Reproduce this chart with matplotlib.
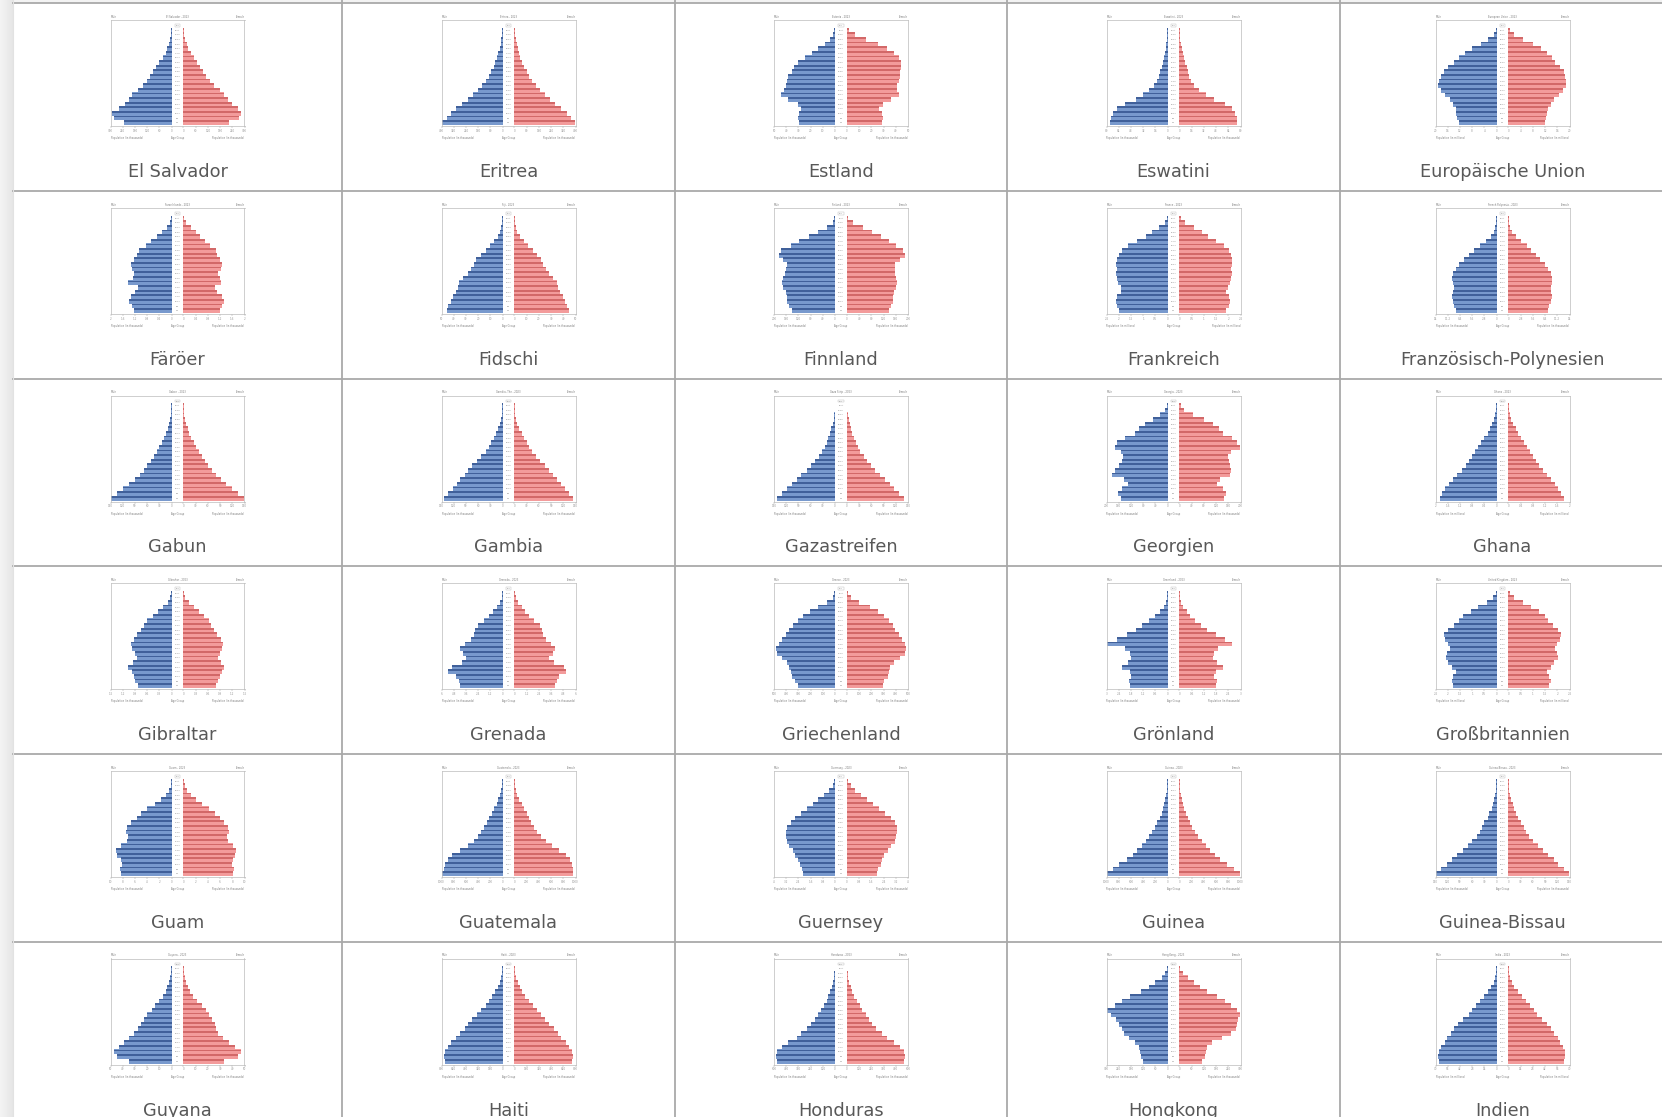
import matplotlib

matplotlib.use("Agg")
import matplotlib.pyplot as plt
from matplotlib.colors import LinearSegmentedColormap
import numpy as np

# --- data: relative bar length (0-100 = full half-width), age 0-4 first ---
countries = [
    "El Salvador", "Eritrea", "Estland", "Eswatini", "Europäische Union",
    "Färöer", "Fidschi", "Finnland", "Frankreich", "Französisch-Polynesien",
    "Gabun", "Gambia", "Gazastreifen", "Georgien", "Ghana",
    "Gibraltar", "Grenada", "Griechenland", "Grönland", "Großbritannien",
    "Guam", "Guatemala", "Guernsey", "Guinea", "Guinea-Bissau",
    "Guyana", "Haiti", "Honduras", "Hongkong", "Indien",
]
chart_titles = [
    "El Salvador", "Eritrea", "Estonia", "Eswatini", "European Union",
    "Faroe Islands", "Fiji", "Finland", "France", "French Polynesia",
    "Gabon", "Gambia, The", "Gaza Strip", "Georgia", "Ghana",
    "Gibraltar", "Grenada", "Greece", "Greenland", "United Kingdom",
    "Guam", "Guatemala", "Guernsey", "Guinea", "Guinea-Bissau",
    "Guyana", "Haiti", "Honduras", "Hong Kong", "India",
]
scale_max = [300, 400, 50, 80, 20, 2, 50, 200, 2.5, 14,
             150, 150, 150, 200, 2,
             1.5, 6, 500, 3, 2.5,
             10, 1000, 4, 1000, 150,
             50, 800, 600, 300, 70]
unit = ["thousands", "thousands", "thousands", "thousands", "millions",
        "thousands", "thousands", "thousands", "millions", "thousands",
        "thousands", "thousands", "thousands", "thousands", "millions",
        "thousands", "thousands", "thousands", "thousands", "millions",
        "thousands", "thousands", "thousands", "thousands", "thousands",
        "thousands", "thousands", "thousands", "thousands", "millions"]
age_groups = ["0-4", "5-9", "10-14", "15-19", "20-24", "25-29", "30-34",
              "35-39", "40-44", "45-49", "50-54", "55-59", "60-64", "65-69",
              "70-74", "75-79", "80-84", "85-89", "90-94", "95-99", "100+"]
year = "2023"

male = {
    "El Salvador": [79, 96, 99, 88, 78, 71, 65, 56, 47, 40, 35, 30, 25, 20, 14, 10, 7, 5, 3, 1.5, 0.5],
    "Eritrea": [100, 93, 86, 77, 67, 58, 49, 41, 34, 28, 23, 19, 15, 12, 9, 7, 5, 3, 2, 1, 0.3],
    "Estland": [60, 62, 60, 56, 62, 78, 90, 85, 82, 80, 78, 72, 68, 62, 50, 38, 28, 16, 8, 3, 1],
    "Eswatini": [96, 94, 90, 84, 70, 52, 40, 30, 22, 17, 14, 12, 10, 8, 6, 4, 3, 2, 1, 0.5, 0.2],
    "Europäische Union": [62, 65, 68, 68, 72, 78, 85, 92, 98, 96, 92, 88, 80, 70, 62, 52, 40, 26, 14, 5, 1],
    "Färöer": [62, 66, 70, 68, 60, 56, 72, 64, 62, 66, 68, 62, 58, 54, 42, 34, 24, 16, 8, 3, 1],
    "Fidschi": [92, 90, 86, 82, 78, 74, 72, 66, 58, 52, 48, 44, 36, 28, 20, 14, 8, 4, 2, 1, 0.3],
    "Finnland": [72, 76, 80, 80, 82, 86, 88, 86, 84, 82, 80, 86, 94, 90, 74, 60, 44, 28, 14, 4, 1],
    "Frankreich": [80, 84, 86, 84, 78, 78, 82, 84, 86, 84, 86, 84, 80, 76, 66, 50, 36, 26, 14, 5, 1],
    "Französisch-Polynesien": [68, 70, 72, 74, 72, 70, 72, 74, 72, 68, 62, 54, 46, 38, 28, 18, 10, 5, 2, 1, 0.3],
    "Gabun": [100, 90, 80, 70, 61, 53, 46, 40, 34, 29, 24, 20, 16, 12, 9, 6, 4, 2, 1, 0.5, 0.2],
    "Gambia": [97, 90, 83, 76, 70, 63, 57, 50, 42, 35, 28, 23, 19, 15, 11, 7, 4, 2, 1, 0.5, 0.2],
    "Gazastreifen": [97, 88, 80, 72, 64, 56, 47, 40, 34, 27, 21, 17, 14, 11, 8, 6, 4, 2, 1, 0.5, 0.2],
    "Georgien": [78, 82, 76, 66, 72, 92, 88, 80, 76, 74, 78, 88, 84, 70, 54, 48, 38, 24, 12, 4, 1],
    "Ghana": [94, 90, 85, 79, 72, 65, 58, 51, 45, 40, 35, 30, 25, 20, 15, 11, 7, 4, 2, 1, 0.3],
    "Gibraltar": [56, 60, 62, 66, 72, 64, 58, 60, 66, 68, 62, 58, 50, 46, 40, 30, 22, 14, 6, 2, 0.5],
    "Grenada": [70, 72, 78, 90, 84, 68, 60, 66, 70, 62, 52, 48, 46, 40, 30, 22, 16, 10, 4, 1, 0.3],
    "Griechenland": [62, 66, 72, 74, 76, 80, 88, 96, 98, 94, 88, 82, 76, 70, 62, 54, 42, 28, 14, 4, 1],
    "Grönland": [62, 64, 60, 62, 76, 66, 60, 62, 70, 100, 84, 68, 52, 42, 30, 20, 12, 6, 2, 1, 0.2],
    "Großbritannien": [72, 74, 72, 68, 74, 80, 84, 82, 78, 80, 86, 88, 80, 70, 62, 56, 42, 30, 16, 6, 1],
    "Guam": [84, 86, 82, 84, 90, 92, 84, 74, 72, 76, 74, 68, 58, 50, 40, 28, 18, 10, 4, 1, 0.3],
    "Guatemala": [100, 98, 95, 90, 84, 70, 58, 48, 40, 35, 30, 26, 22, 18, 15, 10, 7, 5, 3, 1, 0.5],
    "Guernsey": [54, 55, 58, 62, 66, 70, 76, 80, 82, 82, 80, 74, 66, 56, 46, 36, 28, 18, 10, 4, 1],
    "Guinea": [100, 90, 80, 68, 58, 50, 43, 36, 30, 25, 20, 17, 13, 10, 8, 6, 4, 2, 1, 0.5, 0.2],
    "Guinea-Bissau": [100, 92, 82, 74, 65, 56, 48, 40, 33, 28, 24, 20, 15, 12, 8, 6, 4, 2, 1, 0.5, 0.2],
    "Guyana": [70, 90, 96, 88, 79, 70, 62, 56, 50, 45, 40, 33, 27, 20, 15, 10, 7, 4, 2, 1, 0.3],
    "Haiti": [96, 98, 96, 90, 85, 77, 70, 63, 57, 50, 42, 35, 28, 22, 17, 12, 8, 5, 3, 1, 0.3],
    "Honduras": [97, 99, 96, 89, 78, 64, 56, 47, 40, 34, 29, 23, 19, 14, 11, 8, 5, 3, 2, 1, 0.3],
    "Hongkong": [40, 44, 46, 48, 54, 64, 72, 76, 80, 86, 94, 100, 88, 76, 62, 44, 30, 20, 10, 4, 1],
    "Indien": [96, 97, 96, 92, 86, 82, 76, 70, 64, 56, 46, 40, 34, 27, 20, 14, 9, 5, 2, 1, 0.3],
}

female = {
    "El Salvador": [75, 92, 96, 90, 80, 74, 68, 60, 51, 44, 38, 33, 28, 22, 17, 12, 8, 6, 3, 1.5, 0.5],
    "Eritrea": [100, 94, 87, 78, 68, 59, 50, 42, 35, 29, 24, 20, 16, 13, 10, 8, 6, 4, 2, 1, 0.3],
    "Estland": [58, 60, 58, 54, 60, 74, 86, 84, 84, 86, 88, 88, 90, 90, 86, 78, 66, 52, 32, 14, 4],
    "Eswatini": [96, 95, 92, 88, 76, 58, 44, 32, 24, 19, 16, 14, 12, 10, 8, 6, 4, 2, 1, 0.5, 0.2],
    "Europäische Union": [60, 62, 64, 66, 70, 76, 84, 90, 96, 96, 94, 92, 86, 78, 72, 64, 54, 40, 24, 10, 2],
    "Färöer": [60, 64, 68, 64, 56, 52, 62, 60, 58, 62, 64, 60, 56, 54, 44, 36, 28, 20, 12, 5, 1],
    "Fidschi": [90, 88, 84, 80, 76, 72, 70, 64, 58, 52, 48, 44, 38, 30, 22, 16, 10, 5, 2, 1, 0.3],
    "Finnland": [70, 74, 76, 76, 78, 82, 84, 82, 80, 80, 80, 88, 96, 94, 82, 70, 56, 42, 26, 10, 2],
    "Frankreich": [78, 82, 84, 82, 78, 80, 84, 86, 88, 86, 88, 88, 86, 82, 74, 60, 48, 38, 24, 10, 2],
    "Französisch-Polynesien": [66, 68, 70, 72, 70, 70, 72, 72, 70, 66, 60, 52, 46, 38, 30, 20, 12, 6, 3, 1, 0.3],
    "Gabun": [100, 90, 80, 70, 62, 54, 47, 41, 35, 30, 25, 21, 17, 13, 10, 7, 5, 3, 1, 0.5, 0.2],
    "Gambia": [97, 91, 84, 77, 71, 64, 58, 51, 43, 36, 29, 24, 20, 16, 12, 8, 5, 3, 1, 0.5, 0.2],
    "Gazastreifen": [95, 87, 79, 71, 63, 55, 47, 40, 34, 28, 22, 18, 15, 12, 9, 7, 5, 3, 1, 0.5, 0.2],
    "Georgien": [74, 78, 72, 62, 68, 84, 86, 84, 82, 80, 86, 100, 96, 88, 72, 66, 56, 40, 22, 8, 2],
    "Ghana": [92, 88, 83, 77, 71, 64, 57, 51, 45, 40, 35, 30, 25, 20, 16, 12, 8, 5, 2, 1, 0.3],
    "Gibraltar": [54, 58, 60, 64, 68, 62, 58, 60, 64, 66, 62, 56, 50, 46, 42, 34, 26, 18, 10, 3, 0.5],
    "Grenada": [68, 70, 74, 86, 82, 66, 58, 64, 68, 60, 52, 48, 46, 42, 32, 24, 18, 12, 6, 2, 0.3],
    "Griechenland": [60, 62, 68, 70, 72, 78, 88, 96, 98, 96, 92, 86, 80, 76, 70, 62, 52, 38, 20, 6, 1],
    "Grönland": [60, 62, 58, 60, 72, 62, 56, 58, 64, 88, 76, 60, 46, 36, 26, 18, 12, 6, 3, 1, 0.2],
    "Großbritannien": [68, 70, 68, 64, 70, 76, 82, 80, 78, 80, 86, 88, 82, 74, 66, 60, 50, 38, 24, 10, 2],
    "Guam": [82, 84, 80, 82, 86, 88, 82, 74, 72, 76, 74, 68, 60, 52, 42, 30, 20, 12, 6, 2, 0.3],
    "Guatemala": [98, 97, 95, 92, 86, 74, 62, 52, 44, 38, 33, 28, 24, 20, 16, 12, 8, 5, 3, 1, 0.5],
    "Guernsey": [50, 52, 56, 58, 62, 68, 74, 80, 82, 84, 84, 80, 74, 64, 54, 44, 34, 24, 14, 6, 1],
    "Guinea": [100, 90, 79, 68, 59, 51, 44, 37, 31, 26, 21, 17, 14, 11, 8, 6, 4, 2, 1, 0.5, 0.2],
    "Guinea-Bissau": [100, 92, 83, 75, 66, 57, 49, 41, 34, 29, 25, 21, 16, 12, 9, 7, 5, 3, 1, 0.5, 0.2],
    "Guyana": [68, 90, 96, 86, 76, 66, 58, 54, 52, 48, 43, 37, 31, 22, 16, 11, 8, 5, 2, 1, 0.3],
    "Haiti": [96, 98, 96, 90, 86, 78, 72, 65, 58, 51, 44, 37, 30, 24, 18, 13, 9, 6, 3, 1, 0.3],
    "Honduras": [95, 97, 95, 89, 79, 66, 58, 49, 42, 36, 31, 25, 21, 16, 12, 9, 6, 4, 2, 1, 0.3],
    "Hongkong": [38, 42, 44, 46, 54, 70, 86, 94, 96, 98, 100, 96, 86, 76, 62, 46, 34, 24, 14, 6, 1],
    "Indien": [92, 94, 94, 90, 86, 82, 76, 70, 64, 56, 48, 42, 36, 29, 22, 16, 10, 6, 3, 1, 0.3],
}

# --- page layout (pixels of the 1662x1117 page) ---
W, H = 1662, 1117
col_edges = [13, 342, 675, 1007, 1340, 1665]
row_tops = [3, 191, 378.5, 566, 754, 941.5]
ncols = 5

MALE_LIGHT, MALE_DARK = "#7899cd", "#40609a"
FEMALE_LIGHT, FEMALE_DARK = "#f39b9b", "#d26868"
GRID = "#a9a9a9"
LABEL = "#585858"
SMALL = "#7a7a7a"

fig = plt.figure(figsize=(W / 100, H / 100), dpi=100)
fig.patch.set_facecolor("white")

# page background, grid lines and country names
bg = fig.add_axes([0, 0, 1, 1])
bg.set_xlim(0, W)
bg.set_ylim(H, 0)
bg.axis("off")
shade = LinearSegmentedColormap.from_list("shade", ["#f4f4f4", "#e6e6e6"])
bg.imshow(np.linspace(0, 1, 50)[None, :], extent=(0, col_edges[0], H, 0),
          cmap=shade, aspect="auto")
bg.fill_between([col_edges[0], W], 0, row_tops[0], color="#f3f3f3", lw=0)
for y in row_tops:
    bg.plot([col_edges[0], W], [y, y], color=GRID, lw=1.3)
for x in col_edges[1:-1]:
    bg.plot([x, x], [0, H], color=GRID, lw=1.3)
bg.plot([col_edges[0], col_edges[0]], [0, H], color="#e2e2e2", lw=0.8)


def px_rect(x0, y0, w, h):
    return [x0 / W, 1 - (y0 + h) / H, w / W, h / H]


gap = 0.098                     # half width of the age-label strip
ypos = np.arange(len(age_groups))

for i, name in enumerate(countries):
    r, c = divmod(i, ncols)
    cx = (col_edges[c] + col_edges[c + 1]) / 2
    ry = row_tops[r]
    box_w, box_h = 134, 106
    bx, by = cx - box_w / 2, ry + 17

    ax = fig.add_axes(px_rect(bx, by, box_w, box_h))
    m = np.array(male[name]) / 100 * 0.985
    f = np.array(female[name]) / 100 * 0.985
    ax.barh(ypos, -m, left=-gap, height=1.06, color=MALE_LIGHT, lw=0)
    ax.barh(ypos + 0.32, -m, left=-gap, height=0.36, color=MALE_DARK, lw=0)
    ax.barh(ypos, f, left=gap, height=1.06, color=FEMALE_LIGHT, lw=0)
    ax.barh(ypos + 0.32, f, left=gap, height=0.36, color=FEMALE_DARK, lw=0)
    for k, ag in enumerate(age_groups):
        ax.text(0, k, ag, ha="center", va="center", fontsize=1.4, color=SMALL)
    ax.text(0, len(age_groups) - 0.1, "Age", ha="center", va="bottom",
            fontsize=1.4, color=SMALL,
            bbox=dict(boxstyle="square,pad=0.4", fc="white", ec="#bbbbbb", lw=0.3))
    ax.set_xlim(-(1 + gap), 1 + gap)
    ax.set_ylim(-0.72, 22.2)
    fr = np.array([1.0, 0.8, 0.6, 0.4, 0.2, 0.0])
    ticks = list(-(gap + fr)) + list(gap + fr[::-1])
    labels = [f"{scale_max[i] * v:g}" for v in fr] + \
             [f"{scale_max[i] * v:g}" for v in fr[::-1]]
    ax.set_xticks(ticks)
    ax.set_xticklabels(labels, fontsize=2.0, color=SMALL)
    ax.set_yticks([])
    ax.tick_params(axis="x", length=1.2, width=0.3, pad=0.8, colors="#999999")
    for sp in ax.spines.values():
        sp.set_color("#bbbbbb")
        sp.set_linewidth(0.5)

    pop = f"Population (in {unit[i]})"
    ax.text(-(1 + gap), -2.9, pop, ha="left", va="top", fontsize=1.8, color=SMALL)
    ax.text(0, -2.9, "Age Group", ha="center", va="top", fontsize=1.8, color=SMALL)
    ax.text(1 + gap, -2.9, pop, ha="right", va="top", fontsize=1.8, color=SMALL)
    ax.text(-(1 + gap), 22.5, "Male", ha="left", va="bottom", fontsize=1.8, color=SMALL)
    ax.text(0, 22.5, f"{chart_titles[i]} - {year}", ha="center", va="bottom",
            fontsize=1.8, color=SMALL)
    ax.text(1 + gap, 22.5, "Female", ha="right", va="bottom", fontsize=1.8, color=SMALL)

    bg.text(cx, ry + 169, name, ha="center", va="center", fontsize=12.8,
            color=LABEL, family="DejaVu Sans")

fig.savefig("out.png", dpi=100)
